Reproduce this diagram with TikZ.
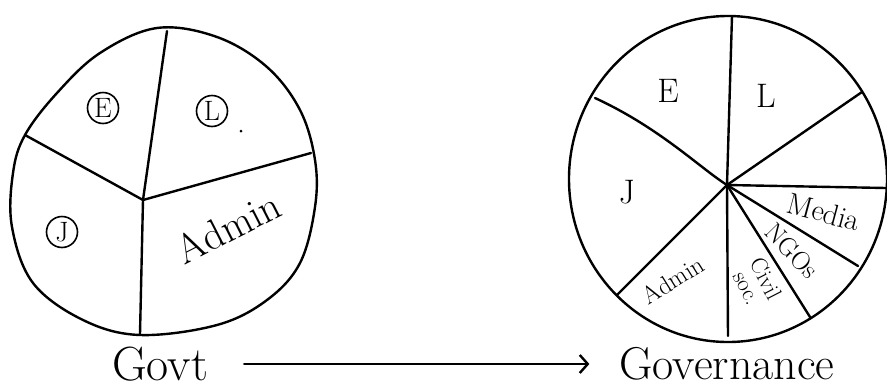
\documentclass[tikz,border=0pt]{standalone}
\usepackage{fontspec}
\usetikzlibrary{arrows.meta}
\tikzset{
  pen/.style={line width=2.4pt, line cap=round, line join=round},
  ring/.style={draw, circle, line width=1.6pt, inner sep=0pt, minimum size=31pt, font=\fontsize{28}{30}\selectfont},
  slice/.style={inner sep=0pt, font=\fontsize{34}{36}\selectfont},
  bigtext/.style={inner sep=0pt, font=\fontsize{46}{50}\selectfont},
}
\begin{document}
\begin{tikzpicture}[x=1pt,y=-1pt]
  \useasboundingbox (0,0) rectangle (887,389);
  % govt pie
  \draw[pen] plot[smooth cycle, tension=0.6] coordinates {(157,28) (217,37) (267,67) (300,110)
    (315,160) (315,207) (300,263) (267,300) (217,325) (140,335) (83,320) (33,283)
    (12,227) (13,173) (25,135) (57,93) (100,53)};
  \coordinate (gc) at (143,200);
  \draw[pen] (gc) -- (167,31);
  \draw[pen] (gc) -- (25,135);
  \draw[pen] (gc) -- (311,153);
  \draw[pen] (gc) -- (140,334);
  \node[ring] (e1) at (103,108) {E};
  \node[ring] (l1) at (212,111) {L};
  \fill (241,131) circle (1.5pt);
  \node[ring] (j1) at (62,232) {J};
  \node[inner sep=0pt, font=\fontsize{41}{44}\selectfont, rotate=27] (a1) at (228,227) {Admin};
  % governance pie
  \draw[pen] (728,179) ellipse [x radius=159pt, y radius=163pt];
  \coordinate (gj) at (727,185);
  \draw[pen] (gj) -- (732,16);
  \draw[pen] (gj) -- (862,92);
  \draw[pen] (gj) -- (886,188);
  \draw[pen] (gj) -- (858,266);
  \draw[pen] (gj) -- (810,317);
  \draw[pen] (gj) -- (728,336);
  \draw[pen] (gj) -- (617,295);
  \draw[pen] (gj) .. controls (700,168) and (660,128) .. (595,98);
  \node[slice] (e2) at (668,91) {E};
  \node[slice] (l2) at (766,96) {L};
  \node[slice] (j2) at (627,192) {J};
  \node[inner sep=0pt, font=\fontsize{30}{32}\selectfont, rotate=-15] (m2) at (824,212) {Media};
  \node[inner sep=0pt, font=\fontsize{26}{28}\selectfont, rotate=-46] (n2) at (792,251) {NGOs};
  \node[inner sep=0pt, font=\fontsize{23}{21}\selectfont, rotate=-63, align=center] (c2) at (757,283) {Civil\\soc.};
  \node[inner sep=0pt, font=\fontsize{25}{27}\selectfont, rotate=32] (a2) at (673,280) {Admin};
  % captions
  \node[bigtext, font=\fontsize{48}{50}\selectfont] (govt) at (160,364) {Govt};
  \node[bigtext] (gov) at (727,364) {Governance};
  \draw[pen, -{Straight Barb[length=8pt, width=18pt]}, shorten <=36pt, shorten >=30pt] (govt) -- (gov);
\end{tikzpicture}
\end{document}
